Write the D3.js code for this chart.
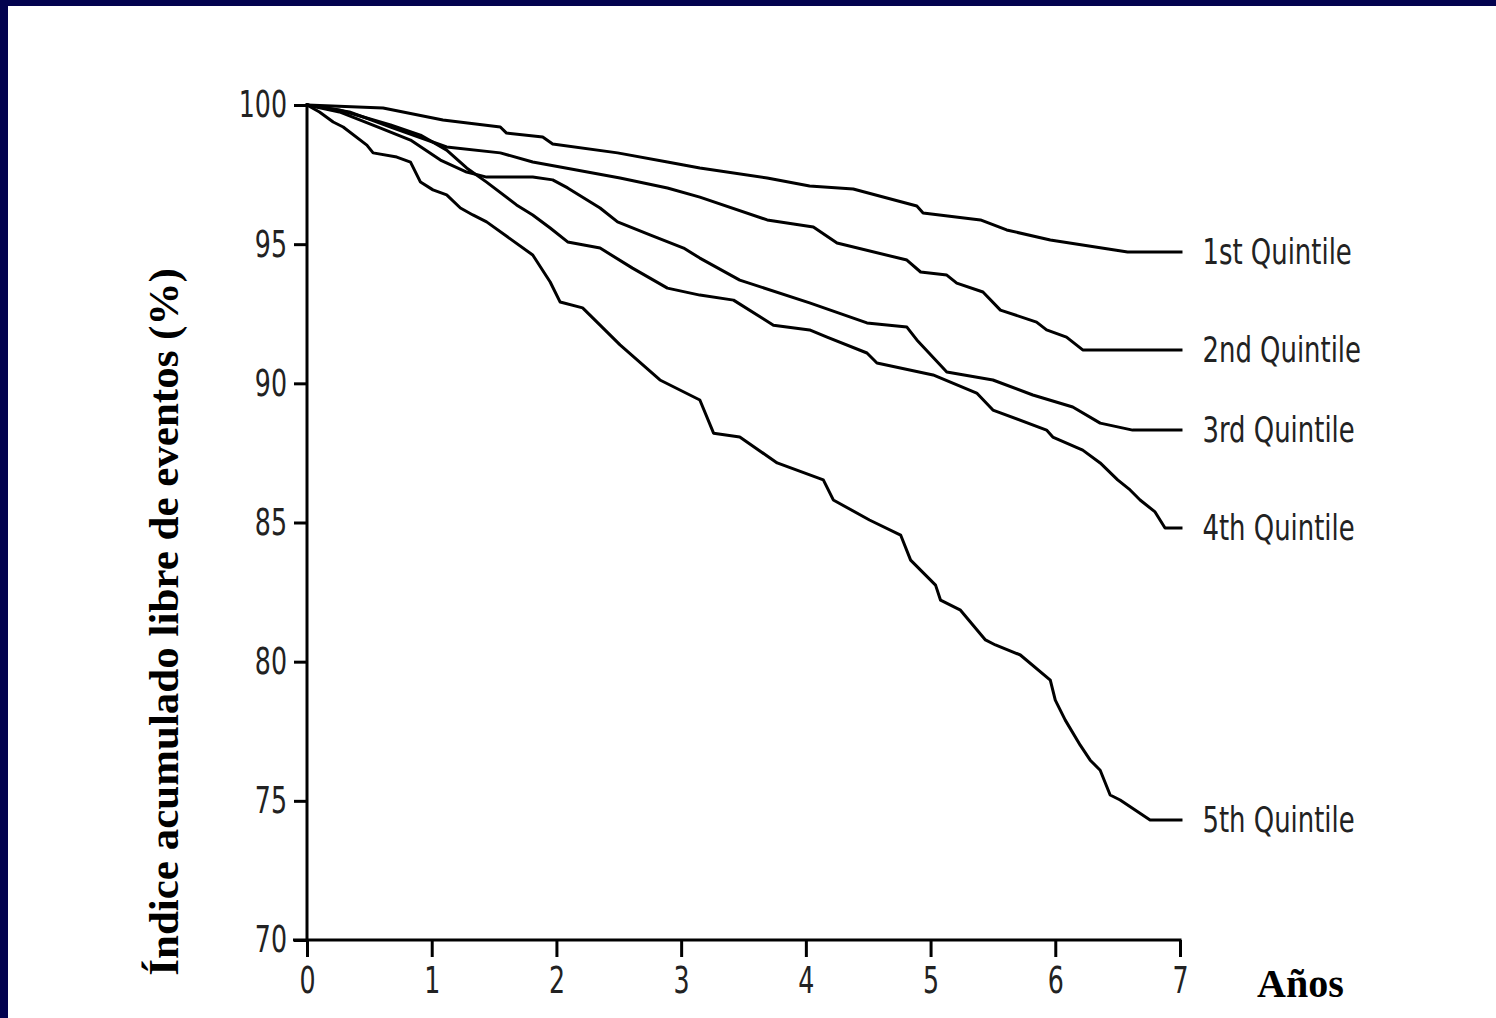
<!DOCTYPE html>
<html>
<head>
<meta charset="utf-8">
<script src="https://cdn.jsdelivr.net/npm/d3@7"></script>
<style>
  html, body { margin: 0; padding: 0; background: #03034f; overflow: hidden; }
</style>
</head>
<body>
<script>
// Event-free survival (%) by year, one array per quintile: [years, percent]
const q1 = [[0,100],[0.61,99.89],[1.09,99.46],[1.55,99.21],[1.60,98.99],[1.89,98.85],[1.97,98.60],[2.49,98.28],[2.89,97.95],[3.15,97.74],[3.69,97.38],[4.03,97.09],[4.38,96.98],[4.89,96.37],[4.94,96.12],[5.40,95.87],[5.61,95.51],[5.96,95.15],[6.58,94.72],[7.02,94.72]];
const q2 = [[0,100],[0.34,99.75],[0.67,99.21],[1.12,98.49],[1.55,98.28],[1.81,97.95],[2.03,97.77],[2.51,97.38],[2.89,97.02],[3.15,96.69],[3.69,95.87],[4.06,95.62],[4.25,95.04],[4.81,94.43],[4.92,94.00],[5.13,93.89],[5.21,93.60],[5.42,93.28],[5.56,92.63],[5.85,92.20],[5.93,91.92],[6.09,91.66],[6.22,91.20],[7.02,91.20]];
const q3 = [[0,100],[0.26,99.75],[0.59,99.17],[0.83,98.74],[1.07,98.02],[1.28,97.59],[1.44,97.41],[1.81,97.41],[1.97,97.31],[2.09,97.02],[2.35,96.30],[2.49,95.80],[2.75,95.33],[3.02,94.86],[3.15,94.50],[3.47,93.71],[4.03,92.89],[4.49,92.17],[4.81,92.02],[4.89,91.56],[5.13,90.41],[5.50,90.12],[5.82,89.58],[6.14,89.15],[6.36,88.57],[6.62,88.32],[7.02,88.32]];
const q4 = [[0,100],[0.26,99.82],[0.67,99.28],[0.91,98.92],[1.12,98.38],[1.28,97.74],[1.44,97.23],[1.68,96.41],[1.81,96.05],[1.95,95.58],[2.09,95.08],[2.35,94.86],[2.61,94.14],[2.89,93.42],[3.15,93.17],[3.42,92.99],[3.74,92.09],[4.03,91.92],[4.17,91.66],[4.49,91.09],[4.57,90.73],[5.02,90.30],[5.37,89.65],[5.50,89.04],[5.93,88.32],[5.98,88.07],[6.22,87.60],[6.36,87.14],[6.50,86.53],[6.60,86.17],[6.68,85.81],[6.80,85.38],[6.88,84.80],[7.02,84.80]];
const q5 = [[0,100],[0.10,99.75],[0.21,99.39],[0.29,99.21],[0.48,98.56],[0.53,98.28],[0.72,98.13],[0.83,97.95],[0.91,97.23],[1.01,96.95],[1.12,96.77],[1.23,96.30],[1.33,96.05],[1.44,95.80],[1.81,94.61],[1.95,93.64],[2.03,92.92],[2.21,92.71],[2.35,92.09],[2.51,91.38],[2.83,90.12],[3.15,89.40],[3.26,88.21],[3.47,88.07],[3.77,87.14],[4.14,86.53],[4.22,85.81],[4.51,85.09],[4.76,84.55],[4.84,83.65],[5.04,82.75],[5.08,82.21],[5.24,81.85],[5.44,80.78],[5.52,80.60],[5.72,80.24],[5.96,79.34],[6.00,78.62],[6.08,77.90],[6.20,77.00],[6.28,76.46],[6.36,76.10],[6.44,75.21],[6.52,75.03],[6.76,74.31],[7.02,74.31]];

const seriesNames = ["1st Quintile", "2nd Quintile", "3rd Quintile", "4th Quintile", "5th Quintile"];
const seriesData = [q1, q2, q3, q4, q5];

const xTicks = [0, 1, 2, 3, 4, 5, 6, 7];
const yTicks = [70, 75, 80, 85, 90, 95, 100];

const yLabel = "Índice acumulado libre de eventos (%)";
const xLabel = "Años";

const W = 1496, H = 1018;

const svg = d3.select("body").append("svg")
  .attr("width", W)
  .attr("height", H)
  .style("display", "block");

// white slide area inside the navy frame
svg.append("rect")
  .attr("x", 8).attr("y", 6)
  .attr("width", W - 8).attr("height", H - 6)
  .attr("fill", "#fff");

const x = d3.scaleLinear().domain([0, 7]).range([307, 1180]);
const y = d3.scaleLinear().domain([70, 100]).range([940, 105]);

const tickFont = "'Liberation Sans Narrow', 'Arial Narrow', 'DejaVu Sans Condensed', sans-serif";

// squeeze text horizontally to look like the narrow font of the original
function narrow(sel, k) {
  sel.each(function () {
    const len = this.getComputedTextLength();
    d3.select(this)
      .attr("textLength", len * k)
      .attr("lengthAdjust", "spacingAndGlyphs");
  });
}

// y axis
const yAxis = svg.append("g")
  .attr("transform", `translate(${x(0)},0)`)
  .call(d3.axisLeft(y).tickValues(yTicks).tickFormat(d3.format("d"))
    .tickSize(13).tickPadding(7).tickSizeOuter(0));
yAxis.select(".domain").attr("stroke", "#000").attr("stroke-width", 3)
  .attr("d", `M0,${y(100) - 2}V${y(70)}`);
yAxis.selectAll(".tick line").attr("stroke", "#000").attr("stroke-width", 3);
yAxis.selectAll(".tick text")
  .attr("fill", "#222")
  .style("font-family", tickFont)
  .style("font-size", "37px")
  .call(narrow, 0.76);

// x axis
const xAxis = svg.append("g")
  .attr("transform", `translate(0,${y(70)})`)
  .call(d3.axisBottom(x).tickValues(xTicks).tickFormat(d3.format("d"))
    .tickSize(17).tickPadding(10).tickSizeOuter(0));
xAxis.select(".domain").attr("stroke", "#000").attr("stroke-width", 3)
  .attr("d", `M${x(0) - 14},0H${x(7) + 1.5}`);
xAxis.selectAll(".tick line").attr("stroke", "#000").attr("stroke-width", 3);
xAxis.selectAll(".tick text")
  .attr("fill", "#222")
  .style("font-family", tickFont)
  .style("font-size", "37px")
  .call(narrow, 0.76);

// survival curves
const line = d3.line()
  .x(d => x(d[0]))
  .y(d => y(d[1]));

svg.append("g")
  .selectAll("path")
  .data(seriesData)
  .join("path")
  .attr("d", line)
  .attr("fill", "none")
  .attr("stroke", "#000")
  .attr("stroke-width", 3)
  .attr("stroke-linejoin", "round");

// end labels
svg.append("g")
  .selectAll("text")
  .data(seriesData)
  .join("text")
  .attr("x", d => x(d[d.length - 1][0]) + 20)
  .attr("y", d => y(d[d.length - 1][1]) + 12)
  .attr("fill", "#222")
  .style("font-family", tickFont)
  .style("font-size", "36px")
  .text((d, i) => seriesNames[i])
  .call(narrow, 0.8);

// axis titles
svg.append("text")
  .attr("transform", `translate(178,622) rotate(-90)`)
  .attr("text-anchor", "middle")
  .style("font-family", "'Liberation Serif', 'Times New Roman', serif")
  .style("font-weight", "bold")
  .style("font-size", "43px")
  .attr("fill", "#000")
  .text(yLabel);

svg.append("text")
  .attr("x", 1257)
  .attr("y", 997)
  .style("font-family", "'Liberation Serif', 'Times New Roman', serif")
  .style("font-weight", "bold")
  .style("font-size", "40px")
  .attr("fill", "#000")
  .text(xLabel);
</script>
</body>
</html>
